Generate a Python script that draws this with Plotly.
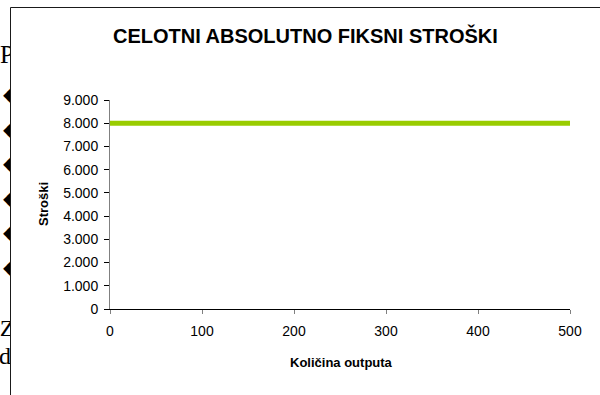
import plotly.graph_objects as go

W, H = 600, 395

# Series: total absolute fixed costs over output quantity
output_qty = [0, 100, 200, 300, 400, 500]
fixed_cost = [8000, 8000, 8000, 8000, 8000, 8000]

x_ticks = [0, 100, 200, 300, 400, 500]
y_ticks = [0, 1000, 2000, 3000, 4000, 5000, 6000, 7000, 8000, 9000]
y_tick_labels = ["0", "1.000", "2.000", "3.000", "4.000", "5.000",
                 "6.000", "7.000", "8.000", "9.000"]

# Slide text peeking out from behind the chart frame on the left
slide_glyphs = ["P", "◆", "◆", "◆", "◆", "◆", "◆", "Z", "d"]
slide_glyph_x = [7, 10, 10, 10, 10, 10, 10, 7, 5]
slide_glyph_y = [57, 96, 130.5, 165, 199.5, 234, 268.5, 330, 358]
slide_glyph_size = [25, 20, 20, 20, 20, 20, 20, 24, 24]

# Chart frame outline in page pixels (left and top edges; the rest runs off the page)
frame_x = [10.5, 10.5, W]
frame_y = [H, 7.5, 7.5]

px = lambda v: v / W          # horizontal pixel -> paper fraction
py = lambda v: 1 - v / H      # vertical pixel (from top) -> paper fraction

fig = go.Figure()

fig.add_trace(go.Scatter(
    x=output_qty, y=fixed_cost, mode="lines",
    line=dict(color="#99CC00", width=5),
    hoverinfo="skip", showlegend=False,
    xaxis="x", yaxis="y",
))

fig.add_trace(go.Scatter(
    x=slide_glyph_x, y=slide_glyph_y, text=slide_glyphs, mode="text",
    textposition="middle center",
    textfont=dict(family="Liberation Serif", size=slide_glyph_size, color="black"),
    cliponaxis=True, hoverinfo="skip", showlegend=False,
    xaxis="x2", yaxis="y2",
))

fig.add_trace(go.Scatter(
    x=frame_x, y=frame_y, mode="lines",
    line=dict(color="#1a1a1a", width=1),
    cliponaxis=False, hoverinfo="skip", showlegend=False,
    xaxis="x3", yaxis="y3",
))

axis_font = dict(family="Liberation Sans", size=14, color="black")

fig.update_layout(
    width=W, height=H, autosize=False,
    margin=dict(l=0, r=0, t=0, b=0, pad=0, autoexpand=False),
    paper_bgcolor="white", plot_bgcolor="rgba(0,0,0,0)",
    xaxis=dict(
        domain=[px(110), px(570)], range=[0, 500],
        tickvals=x_ticks, ticktext=[str(v) for v in x_ticks],
        showgrid=False, zeroline=False, automargin=False,
        showline=True, linecolor="black", linewidth=1,
        ticks="outside", ticklen=4, tickcolor="#808080", tickwidth=1,
        ticklabelstandoff=5,
        tickfont=axis_font, anchor="y", fixedrange=True,
    ),
    yaxis=dict(
        domain=[py(309), py(100)], range=[0, 9000],
        tickvals=y_ticks, ticktext=y_tick_labels,
        showgrid=False, zeroline=False, automargin=False,
        showline=True, linecolor="#808080", linewidth=1,
        ticks="outside", ticklen=5, tickcolor="black", tickwidth=1,
        ticklabelstandoff=3,
        tickfont=axis_font, anchor="x", fixedrange=True,
    ),
    xaxis2=dict(domain=[0, px(10)], range=[0, 10], visible=False,
                automargin=False, anchor="y2", fixedrange=True),
    yaxis2=dict(domain=[0, 1], range=[H, 0], visible=False,
                automargin=False, anchor="x2", fixedrange=True),
    xaxis3=dict(domain=[0, 1], range=[0, W], visible=False,
                automargin=False, anchor="y3", fixedrange=True),
    yaxis3=dict(domain=[0, 1], range=[H, 0], visible=False,
                automargin=False, anchor="x3", fixedrange=True),
    annotations=[
        dict(text="<b>CELOTNI ABSOLUTNO FIKSNI STROŠKI</b>",
             x=px(305), y=py(35), xref="paper", yref="paper",
             xanchor="center", yanchor="middle", showarrow=False,
             font=dict(family="Liberation Sans", size=20, color="black")),
        dict(text="<b>Stroški</b>",
             x=px(43), y=py(204), xref="paper", yref="paper",
             xanchor="center", yanchor="middle", showarrow=False, textangle=-90,
             font=dict(family="Liberation Sans", size=13, color="black")),
        dict(text="<b>Količina outputa</b>",
             x=px(341), y=py(362), xref="paper", yref="paper",
             xanchor="center", yanchor="middle", showarrow=False,
             font=dict(family="Liberation Sans", size=13, color="black")),
    ],
)

fig.write_html("out.html", config={"displayModeBar": False, "staticPlot": True})
